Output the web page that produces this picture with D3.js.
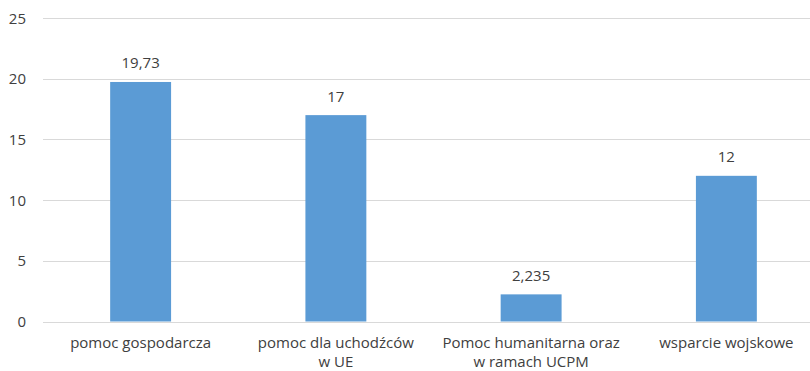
<!DOCTYPE html>
<html>
<head>
<meta charset="utf-8">
<script src="https://cdn.jsdelivr.net/npm/d3@7"></script>
<style>
body{margin:0;background:#fff;}
svg{display:block;}
</style>
</head>
<body>
<svg width="810" height="371"></svg>
<script>
var kategorie = [["pomoc gospodarcza"], ["pomoc dla uchodźców", "w UE"], ["Pomoc humanitarna oraz", "w ramach UCPM"], ["wsparcie wojskowe"]];
var wartosci = [19.73, 17, 2.235, 12];
var etykiety = ["19,73", "17", "2,235", "12"];
var ticki = [0, 5, 10, 15, 20, 25];

var svg = d3.select("svg");
var lewo = 43, prawo = 824, gora = 18, dol = 321.5;
var czcionka = "'Open Sans', sans-serif";

var x = d3.scaleBand()
	.domain(d3.range(kategorie.length))
	.range([lewo, prawo]);
var y = d3.scaleLinear()
	.domain([0, 25])
	.range([dol, gora]);

var szer = x.bandwidth() * 0.312;

// siatka
svg.append("g")
	.selectAll("line")
	.data(ticki)
	.enter().append("line")
	.attr("x1", lewo)
	.attr("x2", prawo)
	.attr("y1", function(d){ return Math.round(y(d)) + 0.5; })
	.attr("y2", function(d){ return Math.round(y(d)) + 0.5; })
	.style("stroke", "#d9d9d9")
	.style("stroke-width", "1px");

// os y
svg.append("g")
	.selectAll("text")
	.data(ticki)
	.enter().append("text")
	.attr("x", 26)
	.attr("y", function(d){ return y(d) + 5.5; })
	.attr("text-anchor", "end")
	.attr("font-family", czcionka)
	.attr("font-size", 15)
	.attr("fill", "#404040")
	.text(function(d){ return d; });

// slupki
svg.append("g")
	.selectAll("rect")
	.data(wartosci)
	.enter().append("rect")
	.attr("x", function(d, i){ return x(i) + x.bandwidth()/2 - szer/2; })
	.attr("y", function(d){ return y(d); })
	.attr("width", szer)
	.attr("height", function(d){ return y(0) - y(d); })
	.style("fill", "#5b9bd5");

// wartosci
svg.append("g")
	.selectAll("text")
	.data(wartosci)
	.enter().append("text")
	.attr("x", function(d, i){ return x(i) + x.bandwidth()/2; })
	.attr("y", function(d){ return y(d) - 13.5; })
	.attr("text-anchor", "middle")
	.attr("font-family", czcionka)
	.attr("font-size", 15)
	.attr("fill", "#404040")
	.text(function(d, i){ return etykiety[i]; });

// kategorie
kategorie.forEach(function(k, i){
	var t = svg.append("text")
		.attr("text-anchor", "middle")
		.attr("font-family", czcionka)
		.attr("font-size", 15)
		.attr("fill", "#404040");
	k.forEach(function(linia, j){
		t.append("tspan")
			.attr("x", x(i) + x.bandwidth()/2)
			.attr("y", 348 + j*19)
			.text(linia);
	});
});
</script>
</body>
</html>
